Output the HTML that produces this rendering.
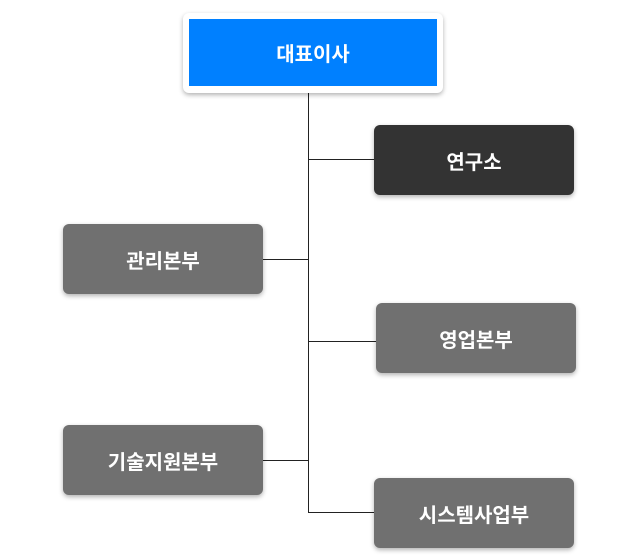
<!DOCTYPE html>
<html><head><meta charset="utf-8"><style>
body{margin:0;width:640px;height:560px;background:#fff;position:relative;overflow:hidden;font-family:"Liberation Sans","Noto Sans CJK KR",sans-serif}
.b{position:absolute;display:flex;align-items:center;justify-content:center;color:#fff;font-size:20px;font-weight:bold;border-radius:6px;box-shadow:0 2px 5px rgba(0,0,0,.3);background:#707070}
.l{position:absolute;background:#222}
</style></head><body>
<div class="l" style="left:308px;top:93px;width:1px;height:420px"></div>
<div class="l" style="left:308px;top:159px;width:66px;height:1px"></div>
<div class="l" style="left:263px;top:259px;width:46px;height:1px"></div>
<div class="l" style="left:308px;top:341px;width:68px;height:1px"></div>
<div class="l" style="left:263px;top:460px;width:46px;height:1px"></div>
<div class="l" style="left:308px;top:512px;width:66px;height:1px"></div>
<div class="b" style="left:183px;top:13px;width:260px;height:80px;background:#fff;border-radius:6px">
 <div style="position:absolute;left:6px;top:6px;width:248px;height:67px;background:#0080ff;display:flex;align-items:center;justify-content:center">대표이사</div>
</div>
<div class="b" style="left:374px;top:125px;width:200px;height:70px;background:#333">연구소</div>
<div class="b" style="left:63px;top:224px;width:200px;height:70px">관리본부</div>
<div class="b" style="left:376px;top:303px;width:200px;height:70px">영업본부</div>
<div class="b" style="left:63px;top:425px;width:200px;height:70px">기술지원본부</div>
<div class="b" style="left:374px;top:478px;width:200px;height:70px">시스템사업부</div>
</body></html>
